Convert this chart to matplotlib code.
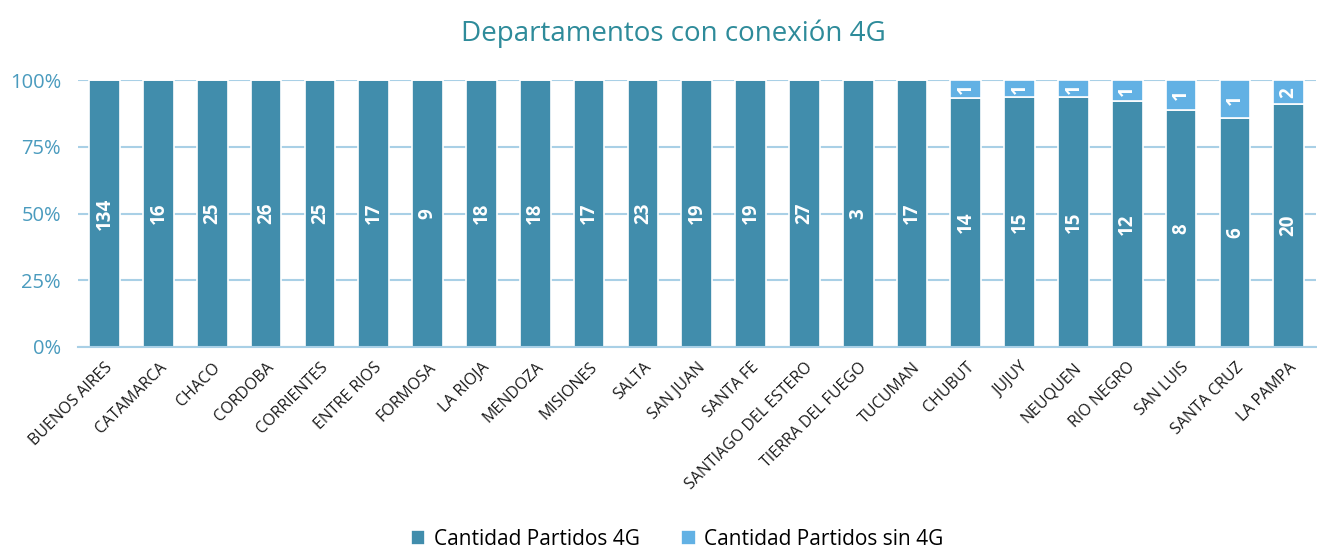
import numpy as np
import matplotlib.pyplot as plt

plt.rcParams['font.family'] = ['Open Sans', 'DejaVu Sans']

provincias = ["BUENOS AIRES", "CATAMARCA", "CHACO", "CORDOBA", "CORRIENTES", "ENTRE RIOS",
              "FORMOSA", "LA RIOJA", "MENDOZA", "MISIONES", "SALTA", "SAN JUAN", "SANTA FE",
              "SANTIAGO DEL ESTERO", "TIERRA DEL FUEGO", "TUCUMAN", "CHUBUT", "JUJUY",
              "NEUQUEN", "RIO NEGRO", "SAN LUIS", "SANTA CRUZ", "LA PAMPA"]
con_4g = [134, 16, 25, 26, 25, 17, 9, 18, 18, 17, 23, 19, 19, 27, 3, 17, 14, 15, 15, 12, 8, 6, 20]
sin_4g = [0, 0, 0, 0, 0, 0, 0, 0, 0, 0, 0, 0, 0, 0, 0, 0, 1, 1, 1, 1, 1, 1, 2]

c_dark = '#418DAC'
c_light = '#62B1E4'
c_text = '#4A9BBE'

con = np.array(con_4g, dtype=float)
sin = np.array(sin_4g, dtype=float)
tot = con + sin
p_con = con / tot
p_sin = sin / tot
x = np.arange(len(provincias))

fig = plt.figure(figsize=(13.17, 5.49), dpi=100)
ax = fig.add_axes([0.059, 0.368, 0.94, 0.486])

ax.bar(x, p_con, width=0.57, color=c_dark, edgecolor='white', linewidth=1.2,
       label='Cantidad Partidos 4G', zorder=3)
ax.bar(x, p_sin, width=0.57, bottom=p_con, color=c_light, edgecolor='white', linewidth=1.2,
       label='Cantidad Partidos sin 4G', zorder=3)

for i in range(len(x)):
    ax.text(x[i], p_con[i] / 2, str(con_4g[i]), rotation=90, ha='center', va='center',
            color='white', fontsize=13.5, fontweight='bold', zorder=4)
    if sin_4g[i] > 0:
        ax.text(x[i], p_con[i] + p_sin[i] / 2, str(sin_4g[i]), rotation=90, ha='center',
                va='center', color='white', fontsize=13.5, fontweight='bold', zorder=4)

ax.set_xlim(-0.5, len(x) - 0.5)
ax.set_ylim(0, 1)
ax.set_yticks([0, 0.25, 0.5, 0.75, 1.0])
ax.set_yticklabels(['0%', '25%', '50%', '75%', '100%'], color=c_text, fontsize=14.5)
ax.yaxis.grid(True, color='#A9D0E6', linewidth=1.5, zorder=0)
ax.set_xticks(x)
ax.set_xticklabels(provincias, rotation=45, ha='right', rotation_mode='anchor',
                   fontsize=11.5, color='#1a1a1a')
ax.tick_params(axis='both', length=0)
ax.tick_params(axis='y', pad=12)
ax.tick_params(axis='x', pad=9)
for s in ['top', 'right', 'left']:
    ax.spines[s].set_visible(False)
ax.spines['bottom'].set_color('#A9D0E6')
ax.spines['bottom'].set_linewidth(1.5)
ax.spines['bottom'].set_zorder(5)

fig.suptitle('Departamentos con conexión 4G', color='#2E8B9A', fontsize=20,
             x=0.511, y=0.965)

fig.legend(loc='lower center', ncol=2, frameon=False, fontsize=15, handlelength=0.7,
           handleheight=0.7, handletextpad=0.4, columnspacing=2.0,
           bbox_to_anchor=(0.514, -0.036))

fig.savefig('out.png', dpi=100)
